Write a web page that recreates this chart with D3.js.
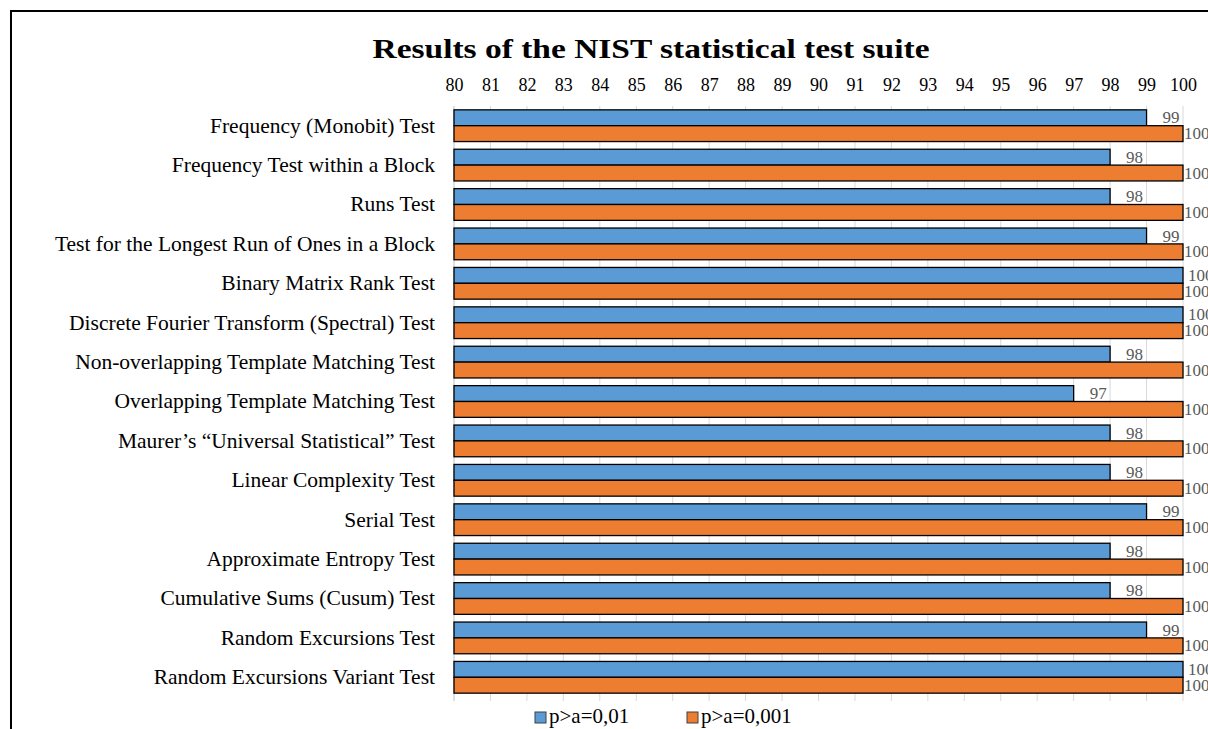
<!DOCTYPE html>
<html>
<head>
<meta charset="utf-8">
<script src="https://cdn.jsdelivr.net/npm/d3@7"></script>
<style>
  html, body { margin: 0; padding: 0; background: #fff; }
  svg { display: block; font-family: "Liberation Serif", "Times New Roman", serif; }
</style>
</head>
<body>
<svg id="chart" width="1208" height="729"></svg>
<script>
// NIST statistical test suite pass rates (%)
const categories = [
  "Frequency (Monobit) Test",
  "Frequency Test within a Block",
  "Runs Test",
  "Test for the Longest Run of Ones in a Block",
  "Binary Matrix Rank Test",
  "Discrete Fourier Transform (Spectral) Test",
  "Non-overlapping Template Matching Test",
  "Overlapping Template Matching Test",
  "Maurer\u2019s \u201cUniversal Statistical\u201d Test",
  "Linear Complexity Test",
  "Serial Test",
  "Approximate Entropy Test",
  "Cumulative Sums (Cusum) Test",
  "Random Excursions Test",
  "Random Excursions Variant Test"
];
const seriesNames = ["p>a=0,01", "p>a=0,001"];
const seriesColors = ["#5b9bd5", "#ed7d31"];
const alpha001 = [99, 98, 98, 99, 100, 100, 98, 97, 98, 98, 99, 98, 98, 99, 100];
const alpha0001 = [100, 100, 100, 100, 100, 100, 100, 100, 100, 100, 100, 100, 100, 100, 100];
const xTicks = d3.range(80, 101, 1);

const series = [alpha001, alpha0001];
const svg = d3.select("#chart");
const serif = "Liberation Serif, Times New Roman, serif";

// chart frame
svg.append("rect")
  .attr("x", 11).attr("y", 11)
  .attr("width", 1300).attr("height", 800)
  .attr("fill", "none").attr("stroke", "#000").attr("stroke-width", 2);

const plot = { left: 454, right: 1183, top: 106, bottom: 697 };

const x = d3.scaleLinear().domain([80, 100]).range([plot.left, plot.right]);
const y = d3.scaleBand().domain(categories).range([plot.top, plot.bottom])
  .paddingInner(0.195).paddingOuter(0.0975);
const ySub = d3.scaleBand().domain([0, 1]).range([0, y.bandwidth()]);

// title
svg.append("text")
  .attr("x", 651).attr("y", 58)
  .attr("text-anchor", "middle")
  .attr("font-size", 28).attr("font-weight", "bold")
  .attr("textLength", 557).attr("lengthAdjust", "spacingAndGlyphs")
  .attr("fill", "#000")
  .text("Results of the NIST statistical test suite");

// vertical gridlines, running slightly below the plot as tick marks
const grid = svg.append("g");
grid.selectAll("line").data(xTicks.slice(1)).join("line")
  .attr("x1", d => x(d)).attr("x2", d => x(d))
  .attr("y1", plot.top).attr("y2", plot.bottom + 4)
  .attr("stroke", "#d9d9d9").attr("stroke-width", 1);

// top axis labels
const xAxis = d3.axisTop(x).tickValues(xTicks).tickSize(0).tickPadding(0);
const gx = svg.append("g").attr("transform", "translate(0,91)").call(xAxis);
gx.select(".domain").remove();
gx.selectAll("text")
  .attr("font-family", serif)
  .attr("font-size", 18).attr("fill", "#000").attr("dy", 0);

// left axis line
svg.append("line")
  .attr("x1", plot.left).attr("x2", plot.left)
  .attr("y1", plot.top).attr("y2", plot.bottom + 4)
  .attr("stroke", "#bfbfbf").attr("stroke-width", 1);

// category labels
const yAxis = d3.axisLeft(y).tickSize(0).tickPadding(19);
const gy = svg.append("g").attr("transform", `translate(${plot.left},0)`).call(yAxis);
gy.select(".domain").remove();
gy.selectAll("text")
  .attr("font-family", serif)
  .attr("font-size", 21.5).attr("fill", "#000");

// bars
const rows = svg.append("g").selectAll("g").data(categories).join("g")
  .attr("transform", d => `translate(0,${y(d)})`);

series.forEach((vals, si) => {
  rows.append("rect")
    .attr("x", x(80))
    .attr("y", ySub(si))
    .attr("width", (d, i) => x(vals[i]) - x(80))
    .attr("height", ySub.bandwidth())
    .attr("fill", seriesColors[si])
    .attr("stroke", "#000").attr("stroke-width", 1.3);

  rows.append("text")
    .attr("x", (d, i) => x(vals[i]) + (si === 0 ? (vals[i] === 100 ? 5 : 16) : 1))
    .attr("y", ySub(si) + ySub.bandwidth() / 2)
    .attr("dy", "0.33em")
    .attr("font-size", 17)
    .attr("fill", "#595959")
    .text((d, i) => vals[i]);
});

// legend
const legend = svg.append("g").attr("transform", "translate(0,723)");
const legendX = [535, 687];
seriesNames.forEach((name, i) => {
  legend.append("rect")
    .attr("x", legendX[i]).attr("y", -11)
    .attr("width", 11).attr("height", 11)
    .attr("fill", seriesColors[i])
    .attr("stroke", "#404040").attr("stroke-width", 1);
  legend.append("text")
    .attr("x", legendX[i] + 14).attr("y", 0)
    .attr("font-size", 21).attr("fill", "#000")
    .text(name);
});
</script>
</body>
</html>
